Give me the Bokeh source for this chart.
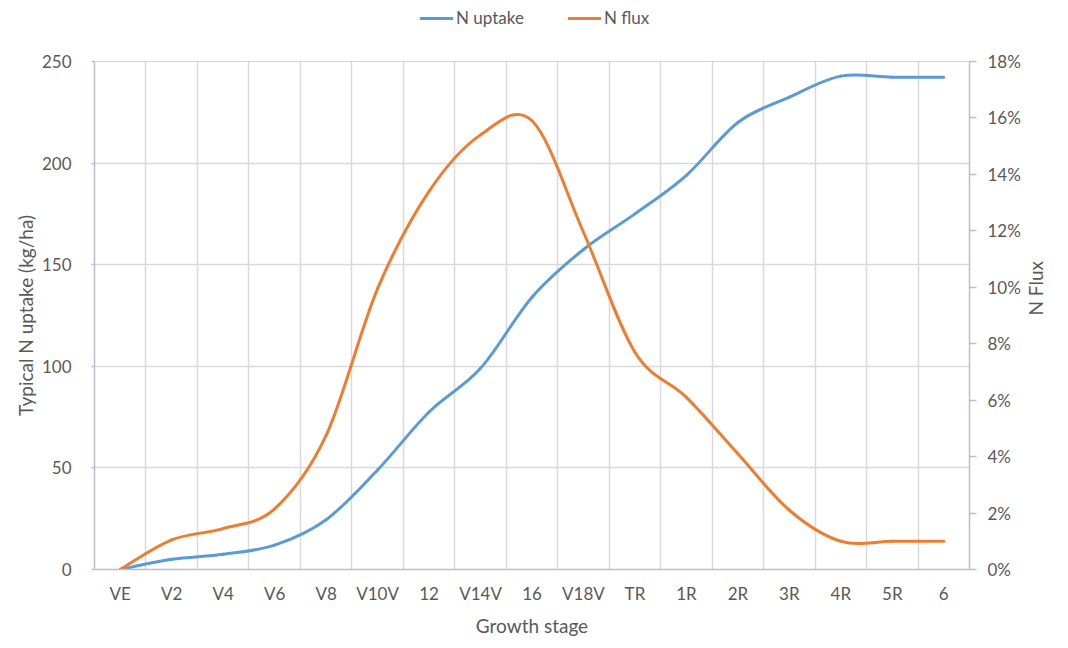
import math

from bokeh.plotting import figure
from bokeh.layouts import column
from bokeh.models import (ColumnDataSource, Range1d, LinearAxis, FixedTicker,
                          NumeralTickFormatter, Legend, LegendItem, Span)
from bokeh.embed import file_html
from bokeh.resources import INLINE

# growth stages as printed on the axis
stages = ["VE", "V2", "V4", "V6", "V8", "V10V", "12", "V14V", "16", "V18V",
          "TR", "1R", "2R", "3R", "4R", "5R", "6"]
# typical N uptake, kg/ha (left axis)
n_uptake = [0, 5, 7.5, 12, 24.5, 49, 77.5, 99, 134, 157.5,
            175, 194, 220, 232.5, 242.8, 242.3, 242.3]
# N flux, share per stage (right axis)
n_flux = [0, 0.0105, 0.0145, 0.0215, 0.0475, 0.0995, 0.134, 0.154, 0.159, 0.1195,
          0.077, 0.061, 0.041, 0.021, 0.010, 0.010, 0.010]

left_ticks = [0, 50, 100, 150, 200, 250]
right_ticks = [0, 0.02, 0.04, 0.06, 0.08, 0.10, 0.12, 0.14, 0.16, 0.18]

FONT = "Lato"
TEXT = "#595959"
BLUE = "#5b9bd5"
ORANGE = "#ed7d31"

xs = list(range(len(stages)))
BEZ = dict(x0="x0", y0="y0", x1="x1", y1="y1", cx0="cx0", cy0="cy0", cx1="cx1", cy1="cy1")


def smooth(x, y):
    # Excel-like smoothed line: one cubic bezier per pair of points
    n = len(x)
    seg = {k: [] for k in BEZ}
    for i in range(n - 1):
        a = i - 1 if i > 0 else i
        b = i + 2 if i + 2 < n else i + 1
        seg["x0"].append(x[i])
        seg["y0"].append(y[i])
        seg["x1"].append(x[i + 1])
        seg["y1"].append(y[i + 1])
        seg["cx0"].append(x[i] + (x[i + 1] - x[a]) / 6)
        seg["cy0"].append(y[i] + (y[i + 1] - y[a]) / 6)
        seg["cx1"].append(x[i + 1] - (x[b] - x[i]) / 6)
        seg["cy1"].append(y[i + 1] - (y[b] - y[i]) / 6)
    return ColumnDataSource(seg)


src_up = smooth(xs, n_uptake)
src_fx = smooth(xs, n_flux)

# main chart
p = figure(frame_width=875, frame_height=508, output_backend="svg", toolbar_location=None,
           x_range=Range1d(-0.5, len(stages) - 0.5), y_range=Range1d(0, 250),
           min_border_left=94, min_border_right=95, min_border_top=14,
           min_border_bottom=75)
p.title = None
p.outline_line_color = None
p.extra_y_ranges = {"flux": Range1d(0, 0.18)}

# grid
p.xgrid.ticker = FixedTicker(ticks=[i - 0.5 for i in range(len(stages) + 1)])
p.xgrid.grid_line_color = "#d9d9d9"
p.xgrid.grid_line_width = 1.5
p.ygrid.grid_line_color = "#d9d9d9"
p.ygrid.grid_line_width = 1.5
p.add_layout(Span(location=250, dimension="width", line_color="#8fb4dc", line_width=1.2))

# bottom axis
p.xaxis.ticker = FixedTicker(ticks=xs)
p.xaxis.major_label_overrides = {i: s for i, s in enumerate(stages)}
p.xaxis.axis_label = "Growth stage"

# left axis
p.yaxis.ticker = FixedTicker(ticks=left_ticks)
p.yaxis.axis_label = "Typical N uptake (kg/ha)"

# right axis
right = LinearAxis(y_range_name="flux", ticker=FixedTicker(ticks=right_ticks),
                   formatter=NumeralTickFormatter(format="0%"), axis_label="N Flux")
right.axis_label_orientation = math.pi / 2
p.add_layout(right, "right")

for ax in [p.xaxis[0], p.yaxis[0], right]:
    ax.axis_line_color = "#b9c0c9"
    ax.axis_line_width = 1.5
    ax.major_tick_line_color = "#b9c0c9"
    ax.major_tick_line_width = 1.5
    ax.minor_tick_line_color = None
    ax.major_tick_in = 0
    ax.major_label_text_font = FONT
    ax.major_label_text_font_size = "17px"
    ax.major_label_text_color = TEXT
    ax.axis_label_text_font = FONT
    ax.axis_label_text_font_size = "19px"
    ax.axis_label_text_font_style = "normal"
    ax.axis_label_text_color = TEXT

p.xaxis.major_tick_out = 0
p.xaxis.major_label_standoff = 13
p.xaxis.axis_label_standoff = 7
p.yaxis.major_tick_out = 3
p.yaxis.major_label_standoff = 20
p.yaxis.axis_label_standoff = 2
right.major_tick_out = 7
right.major_label_standoff = 11
right.axis_label_standoff = 12

p.bezier(**BEZ, source=src_up, line_color=BLUE, line_width=3, line_cap="round")
p.bezier(**BEZ, source=src_fx, y_range_name="flux",
         line_color=ORANGE, line_width=3, line_cap="round")

# legend strip above the chart; its renderers are hidden, only the keys show
top = figure(width=1064, height=47, output_backend="svg", toolbar_location=None,
             x_axis_type=None, y_axis_type=None, min_border=0,
             x_range=Range1d(-0.5, len(stages) - 0.5), y_range=Range1d(0, 250))
top.title = None
top.outline_line_color = None
top.xgrid.visible = False
top.ygrid.visible = False
k_up = top.bezier(**BEZ, source=src_up, line_color=BLUE, line_width=3,
                  line_cap="round", visible=False)
k_fx = top.bezier(**BEZ, source=src_fx, line_color=ORANGE, line_width=3,
                  line_cap="round", visible=False)

legend = Legend(items=[LegendItem(label="N uptake", renderers=[k_up]),
                       LegendItem(label="N flux", renderers=[k_fx])],
                orientation="horizontal", location=(326, 19),
                label_text_font=FONT, label_text_font_size="17px",
                label_text_color=TEXT, glyph_width=33, glyph_height=18,
                label_standoff=3, spacing=44, padding=0, margin=0,
                inactive_fill_alpha=0,
                border_line_color=None, background_fill_alpha=0)
top.add_layout(legend)

page = column(top, p, spacing=0)
open("out.html", "w").write(file_html(page, INLINE))
